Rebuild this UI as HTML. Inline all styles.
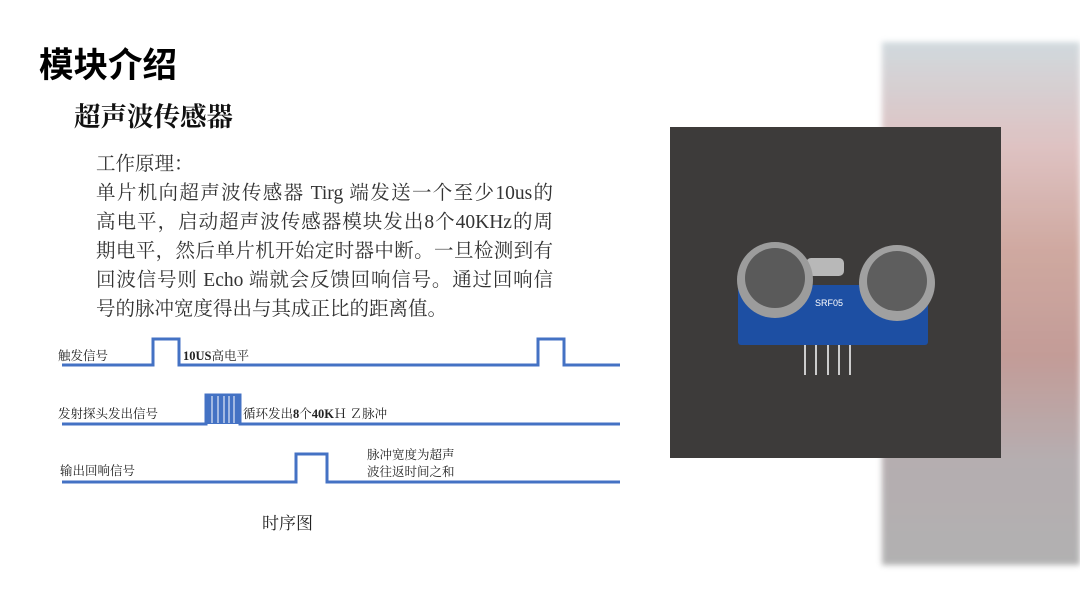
<!DOCTYPE html>
<html><head><meta charset="utf-8"><style>
body{margin:0;width:1080px;height:607px;background:#fff;position:relative;overflow:hidden;font-family:"Liberation Serif","Noto Serif CJK SC",serif}
.a{position:absolute;white-space:nowrap}
.t{font-family:"Liberation Sans","Noto Sans CJK SC",sans-serif;font-weight:bold;font-size:34.5px;left:39px;top:37px;color:#000}
.s{font-weight:bold;font-size:26.5px;left:74px;top:95px;color:#111}
.p{font-size:19.5px;color:#333;left:96px;width:457px;line-height:29px}
.j{text-align:justify;text-align-last:justify}
.l{font-size:12.5px;color:#222}
</style></head><body>
<div style="position:absolute;left:882px;top:42px;width:198px;height:523px;background:linear-gradient(180deg,#c9d3d8 0%,#d9b8b8 20%,#c79a90 40%,#b98b86 60%,#a9a0a3 80%,#a4a4a4 100%);filter:blur(3px);opacity:.85"></div>
<div class="a t">模块介绍</div>
<div class="a s">超声波传感器</div>
<div class="a p" style="top:150px">工作原理：</div>
<div class="a p j" style="top:179px">单片机向超声波传感器 Tirg 端发送一个至少10us的</div>
<div class="a p j" style="top:208px">高电平，启动超声波传感器模块发出8个40KHz的周</div>
<div class="a p j" style="top:237px">期电平，然后单片机开始定时器中断。一旦检测到有</div>
<div class="a p j" style="top:266px">回波信号则 Echo 端就会反馈回响信号。通过回响信</div>
<div class="a p" style="top:295px">号的脉冲宽度得出与其成正比的距离值。</div>

<svg class="a" style="left:0;top:0" width="1080" height="607">
<g fill="none" stroke="#4472c4" stroke-width="3">
<polyline points="62,365 153,365 153,339 179,339 179,365 538,365 538,339 564,339 564,365 620,365"/>
<polyline points="62,424 206,424 206,395 240,395 240,424 620,424"/>
<polyline points="62,482 296,482 296,454 327,454 327,482 620,482"/>
</g>
<rect x="206" y="395" width="35" height="29" fill="#4472c4"/>
<g stroke="#fff" stroke-width="1"><line x1="212" y1="396" x2="212" y2="423"/><line x1="218" y1="396" x2="218" y2="423"/><line x1="224" y1="396" x2="224" y2="423"/><line x1="229" y1="396" x2="229" y2="423"/><line x1="234" y1="396" x2="234" y2="423"/></g>
<rect x="670" y="127" width="331" height="331" fill="#3d3b3a"/>
<rect x="738" y="285" width="190" height="60" rx="3" fill="#1d4fa3"/>
<rect x="806" y="258" width="38" height="18" rx="5" fill="#b8b8b8"/>
<circle cx="775" cy="280" r="38" fill="#9c9c9c"/><circle cx="775" cy="278" r="30" fill="#5a5a5a"/>
<circle cx="897" cy="283" r="38" fill="#a0a0a0"/><circle cx="897" cy="281" r="30" fill="#5e5e5e"/>
<g stroke="#ccc" stroke-width="2"><line x1="805" y1="345" x2="805" y2="375"/><line x1="816" y1="345" x2="816" y2="375"/><line x1="828" y1="345" x2="828" y2="375"/><line x1="839" y1="345" x2="839" y2="375"/><line x1="850" y1="345" x2="850" y2="375"/></g>
<text x="815" y="306" fill="#fff" font-size="9" font-family="Liberation Sans">SRF05</text>
</svg>
<div class="a l" style="left:58px;top:346px">触发信号</div>
<div class="a l" style="left:183px;top:346px"><b>10US</b>高电平</div>
<div class="a l" style="left:58px;top:404px">发射探头发出信号</div>
<div class="a l" style="left:243px;top:404px">循环发出<b>8</b>个<b>40K</b>Ｈ Ｚ脉冲</div>
<div class="a l" style="left:60px;top:461px">输出回响信号</div>
<div class="a l" style="left:367px;top:447px;line-height:17px">脉冲宽度为超声<br>波往返时间之和</div>
<div class="a" style="left:262px;top:509px;font-size:17px;color:#222">时序图</div>
</body></html>
